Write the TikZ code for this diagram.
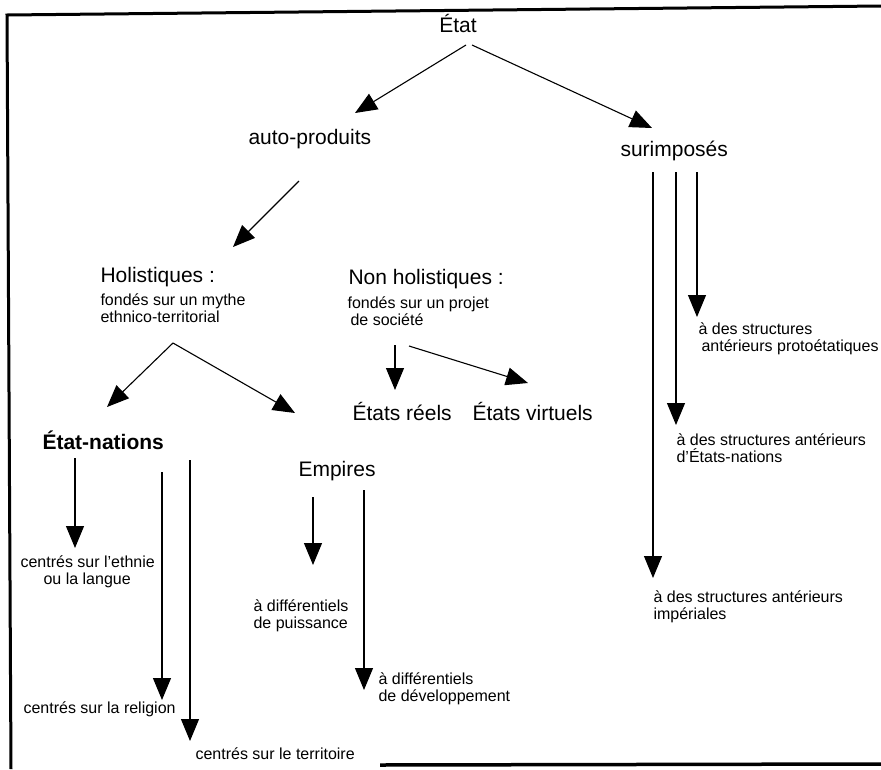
\documentclass[tikz,border=0pt]{standalone}
\usepackage{fontspec}
\setmainfont{Liberation Sans}
\usetikzlibrary{arrows.meta}
\begin{document}
\begin{tikzpicture}[x=1pt, y=-1pt, line width=1.1pt,
		big/.style={anchor=base west, inner sep=0pt, font=\fontsize{21}{24}\selectfont},
		small/.style={anchor=base west, inner sep=0pt, align=left, font=\fontsize{16}{17.5}\selectfont},
		arr/.style={-{Triangle[length=22pt,width=18pt]}}]
	
	\useasboundingbox (0,0) rectangle (881,769);
	
	% cadre
	\draw[line width=3pt] (881,6) -- (7,15) -- (11,769);
	\draw[line width=3.5pt] (380,765) -- (881,764);
	
	% niveaux
	\node[big, anchor=base] (etat) at (458,32) {État};
	\node[big] (auto) at (248,144) {auto-produits};
	\node[big] (surimp) at (620,156) {surimposés};
	\node[big] (holist) at (100,282) {Holistiques :};
	\node[small] (mythe) at (100,322.5) {fondés sur un mythe\\ethnico-territorial};
	\node[big] (nonhol) at (348,284) {Non holistiques :};
	\node[small] (projet) at (347,325.5) {fondés sur un projet\\\hspace*{3pt}de société};
	\node[big] (reels) at (352,420) {États réels};
	\node[big] (virtuels) at (472,420) {États virtuels};
	\node[big, font=\fontsize{21}{24}\selectfont\bfseries] (nations) at (42,449) {État-nations};
	\node[big] (empires) at (298,476) {Empires};
	
	% feuilles
	\node[small] (ethnie) at (20,584.5) {centrés sur l'ethnie\\\hspace*{23pt}ou la langue};
	\node[small] (religion) at (23,713) {centrés sur la religion};
	\node[small] (territ) at (195,759) {centrés sur le territoire};
	\node[small] (puiss) at (253,628.5) {à différentiels\\de puissance};
	\node[small] (devel) at (378,701.5) {à différentiels\\de développement};
	\node[small] (proto) at (698,351.5) {à des structures\\\hspace*{3pt}antérieurs protoétatiques};
	\node[small] (antnat) at (676,462.5) {à des structures antérieurs\\d'États-nations};
	\node[small] (imper) at (653,619.5) {à des structures antérieurs\\impériales};
	
	% fleches
	\coordinate (etatL) at (466,45);
	\coordinate (etatR) at (472,45);
	\coordinate (autoT) at (355,113);
	\coordinate (surT) at (652,128);
	\coordinate (autoB) at (299,181);
	\coordinate (holT) at (233,247);
	\coordinate (holB) at (173,343);
	\coordinate (natT) at (107,407);
	\coordinate (empT) at (295,413);
	\coordinate (nonL) at (395,345);
	\coordinate (nonR) at (409,346);
	\coordinate (reelT) at (395,390);
	\coordinate (virtT) at (528,383);
	
	\draw[arr] (etatL) -- (autoT);
	\draw[arr] (etatR) -- (surT);
	\draw[arr] (autoB) -- (holT);
	\draw[arr] (holB) -- (natT);
	\draw[arr] (holB) -- (empT);
	\draw[arr] (nonL) -- (reelT);
	\draw[arr] (nonR) -- (virtT);
	
	\foreach \n/\x/\a/\b in {s1/653/172/578, s2/676/172/425, s3/697/172/317,
			n1/75/458/548, n2/162/472/700, n3/190/460/741,
			e1/313/497/565, e2/364/490/690} {
		\coordinate (\n a) at (\x,\a);
		\coordinate (\n b) at (\x,\b);
		\draw[arr] (\n a) -- (\n b);
	}
	
\end{tikzpicture}
\end{document}
